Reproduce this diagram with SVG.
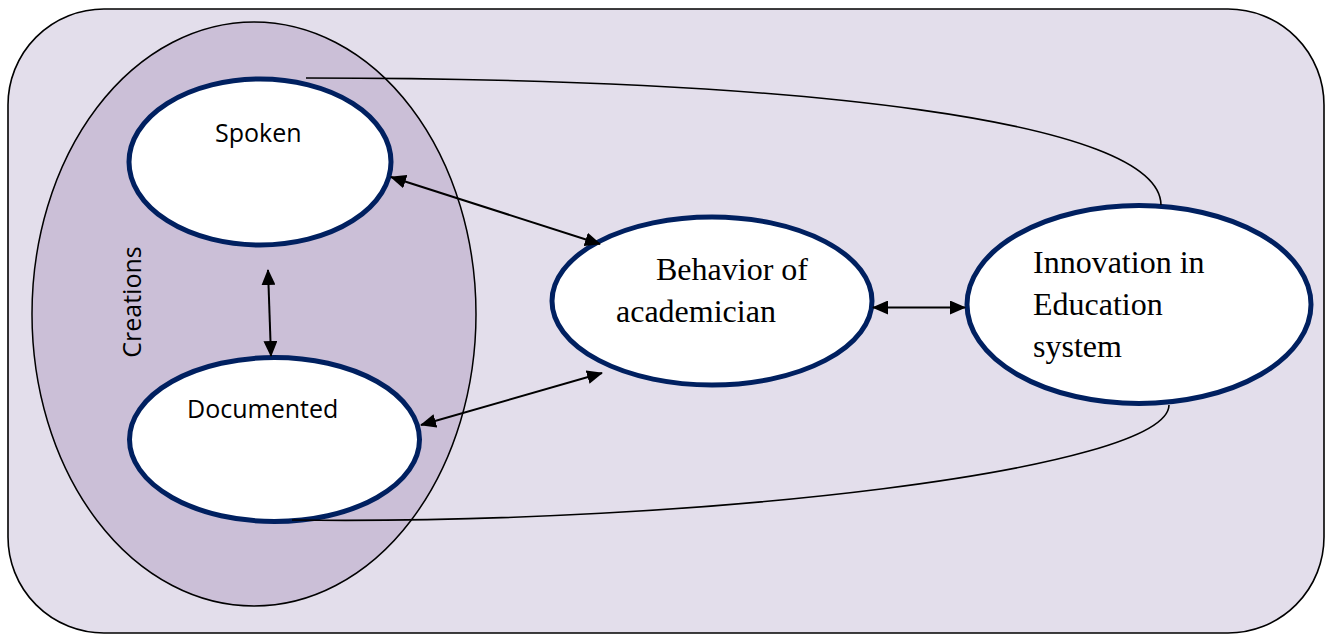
<svg xmlns="http://www.w3.org/2000/svg" width="1326" height="635" viewBox="0 0 1326 635">
  <style>
    .frame { fill: #E3DEEB; stroke: #000; stroke-width: 1.6; }
    .group { fill: #CBBFD7; stroke: #000; stroke-width: 1.5; }
    .node { fill: #FFFFFF; stroke: #002060; stroke-width: 5; }
    .sans { font-family: "Open Sans", "Liberation Sans", sans-serif; font-size: 25px; fill: #000; }
    .serif { font-family: "Liberation Serif", "Times New Roman", serif; font-size: 32px; fill: #000; }
    .arrow { fill: none; stroke: #000; stroke-width: 2; marker-start: url(#head); marker-end: url(#head); }
    .link { fill: none; stroke: #000; stroke-width: 1.6; }
  </style>
  <defs>
    <marker id="head" viewBox="0 0 16 14" refX="15" refY="7" markerWidth="16" markerHeight="14" markerUnits="userSpaceOnUse" orient="auto-start-reverse">
      <path d="M0,0 L16,7 L0,14 z" fill="#000"/>
    </marker>
  </defs>

  <!-- outer frame -->
  <rect class="frame" x="8" y="9" width="1316" height="624" rx="96" ry="96"/>

  <!-- creations grouping -->
  <g id="creations">
    <ellipse class="group" cx="254" cy="314" rx="222" ry="292"/>
    <text class="sans" transform="translate(141,302) rotate(-90)" text-anchor="middle">Creations</text>
  </g>

  <g id="spoken">
    <ellipse class="node" cx="260" cy="162" rx="131" ry="83"/>
    <text class="sans" x="215" y="142">Spoken</text>
  </g>

  <g id="documented">
    <ellipse class="node" cx="274.5" cy="439.5" rx="145" ry="82"/>
    <text class="sans" x="187" y="418">Documented</text>
  </g>

  <g id="behavior">
    <ellipse class="node" cx="712" cy="301" rx="160" ry="84"/>
    <text class="serif" x="656" y="280">Behavior of</text>
    <text class="serif" x="616" y="322">academician</text>
  </g>

  <g id="innovation">
    <ellipse class="node" cx="1139" cy="304.5" rx="172" ry="99"/>
    <text class="serif" x="1033" y="273">Innovation in</text>
    <text class="serif" x="1033" y="315">Education</text>
    <text class="serif" x="1033" y="357">system</text>
  </g>

  <g id="connectors">
    <path class="arrow" d="M391,177 L600,244"/>
    <path class="arrow" d="M421,425 L602,373"/>
    <path class="arrow" d="M268,270 L271,356"/>
    <path class="arrow" d="M873,307.5 L965,307.5"/>
    <path class="link" d="M306,78 C800,78 1160,120 1161,205"/>
    <path class="link" d="M292,520 C700,525 1168,470 1169,405"/>
  </g>
</svg>
